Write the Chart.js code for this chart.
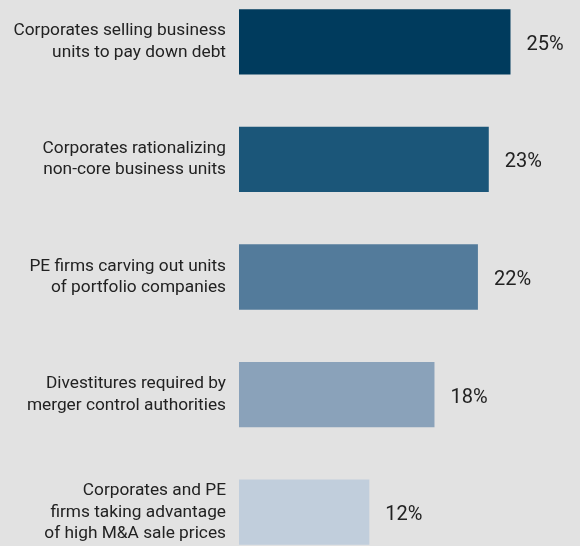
<!DOCTYPE html>
<html>
<head>
<meta charset="utf-8">
<script src="https://cdn.jsdelivr.net/npm/chart.js@4.4.1/dist/chart.umd.min.js"></script>
<style>
    html, body { margin: 0; padding: 0; background: #e2e2e2; }
    #wrap { position: relative; width: 580px; height: 546px; overflow: hidden; }
    #chart { position: absolute; left: 0; top: -17px; }
</style>
</head>
<body>
<div id="wrap"><canvas id="chart" width="580" height="588"></canvas></div>
<script>
// Categories (multi-line labels) and values in percent
const categories = [
    ['Corporates selling business', 'units to pay down debt'],
    ['Corporates rationalizing', 'non-core business units'],
    ['PE firms carving out units', 'of portfolio companies'],
    ['Divestitures required by', 'merger control authorities'],
    ['Corporates and PE', 'firms taking advantage', 'of high M&A sale prices']
];
const values = [25, 23, 22, 18, 12];
const valueLabels = ['25%', '23%', '22%', '18%', '12%'];
const barColors = ['#003b5d', '#1b5679', '#537b9b', '#8aa2ba', '#c1cedc'];

const FONT = "Roboto, 'Liberation Sans', sans-serif";

// Draws the value label to the right of each bar
const valueLabelPlugin = {
    id: 'valueLabels',
    afterDatasetsDraw(chart) {
        const ctx = chart.ctx;
        const meta = chart.getDatasetMeta(0);
        ctx.save();
        ctx.font = '20px ' + FONT;
        ctx.fillStyle = '#222222';
        ctx.textAlign = 'left';
        ctx.textBaseline = 'middle';
        meta.data.forEach((bar, i) => {
            ctx.fillText(valueLabels[i], bar.x + 16, bar.y + 3);
        });
        ctx.restore();
    }
};

new Chart(document.getElementById('chart').getContext('2d'), {
    type: 'bar',
    data: {
        labels: categories,
        datasets: [{
            data: values,
            backgroundColor: barColors,
            borderWidth: 0,
            categoryPercentage: 1,
            barPercentage: 0.555
        }]
    },
    options: {
        indexAxis: 'y',
        responsive: false,
        animation: false,
        layout: { padding: 0 },
        plugins: {
            legend: { display: false },
            tooltip: { enabled: false }
        },
        scales: {
            x: {
                display: false,
                min: 0,
                max: 31.4
            },
            y: {
                grid: { display: false, drawTicks: false },
                border: { display: false },
                afterFit(scale) {
                    scale.width = 239;
                    scale.paddingTop = 0;
                    scale.paddingBottom = 0;
                },
                ticks: {
                    padding: 13,
                    color: '#222222',
                    font: { family: FONT, size: 17.3, lineHeight: '21.5px' }
                }
            }
        }
    },
    plugins: [valueLabelPlugin]
});
</script>
</body>
</html>
